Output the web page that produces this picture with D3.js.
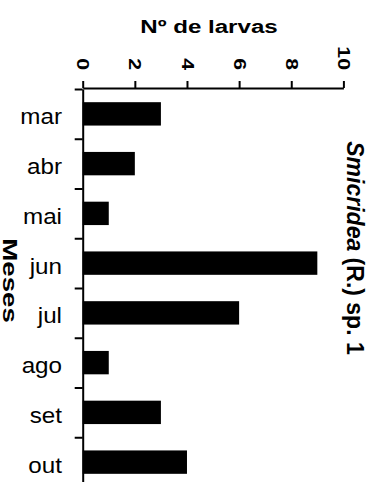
<!DOCTYPE html>
<html>
<head>
<meta charset="utf-8">
<script src="https://cdn.jsdelivr.net/npm/d3@7"></script>
<style>
  body { margin: 0; background: #fff; }
  text { font-family: "Liberation Sans", Arial, Helvetica, sans-serif; fill: #000; }
</style>
</head>
<body>
<svg id="chart" width="379" height="482"></svg>
<script>
// data
var months = ["mar", "abr", "mai", "jun", "jul", "ago", "set", "out"];
var larvae = [3, 2, 1, 9, 6, 1, 3, 4];
var xTicks = [0, 2, 4, 6, 8, 10];

var svg = d3.select("#chart");

// plot edges (window.top is taken, so no "top" here)
var plotLeft = 82.7, plotRight = 343.4, plotTop = 88, plotBottom = 487;

var x = d3.scaleLinear().domain([0, 10]).range([plotLeft, plotRight]);
// band scale for the bars, linear index scale for the boundary ticks
var y = d3.scaleBand().domain(months).range([plotTop + 1, plotBottom])
    .paddingInner(0.53).paddingOuter(0.265);
var yIdx = d3.scaleLinear().domain([0, months.length]).range([plotTop + 1, plotBottom]);

// bars
svg.append("g").selectAll("rect")
    .data(months)
    .enter()
    .append("rect")
    .attr("x", x(0))
    .attr("y", function(d) { return y(d); })
    .attr("width", function(d, i) { return x(larvae[i]) - x(0); })
    .attr("height", y.bandwidth())
    .attr("fill", "#000");

// top value axis
var xAxis = svg.append("g")
    .attr("transform", "translate(0," + plotTop + ")")
    .call(d3.axisTop(x).tickValues(xTicks).tickSize(7).tickSizeOuter(0));
xAxis.select(".domain").attr("stroke", "#000").attr("stroke-width", 2);
xAxis.selectAll(".tick line").attr("stroke", "#000").attr("stroke-width", 2);
xAxis.selectAll(".tick text")
    .attr("x", 0).attr("y", 0).attr("dy", "0.35em")
    .attr("text-anchor", "end")
    .attr("transform", "translate(0,-18) rotate(90) scale(1.25,1)")
    .style("font-family", "'Liberation Sans', Arial, sans-serif")
    .style("font-size", "17px")
    .style("font-weight", "bold")
    .attr("fill", "#000");

// left category axis, ticks between months
var yAxis = svg.append("g")
    .attr("transform", "translate(" + plotLeft + ",0)")
    .call(d3.axisLeft(yIdx).tickValues(d3.range(0, months.length + 1))
        .tickFormat("").tickSize(8).tickSizeOuter(0));
yAxis.select(".domain").attr("stroke", "#000").attr("stroke-width", 2);
yAxis.selectAll(".tick line").attr("stroke", "#000").attr("stroke-width", 2);

// month labels
svg.append("g").selectAll("text")
    .data(months)
    .enter()
    .append("text")
    .attr("transform", function(d) {
        return "translate(62," + (y(d) + y.bandwidth() / 2 + 10.5) + ") scale(1.1,1)";
    })
    .attr("text-anchor", "end")
    .style("font-size", "22px")
    .text(function(d) { return d; });

// titles
svg.append("text")
    .attr("transform", "translate(209,33) scale(1.27,1)")
    .attr("text-anchor", "middle")
    .style("font-size", "19px")
    .style("font-weight", "bold")
    .text("Nº de larvas");

svg.append("text")
    .attr("transform", "translate(3,280.5) rotate(90) scale(1.32,1)")
    .attr("text-anchor", "middle")
    .style("font-size", "21px")
    .style("font-weight", "bold")
    .text("Meses");

var species = svg.append("text")
    .attr("transform", "translate(347,248) rotate(90)")
    .attr("text-anchor", "middle")
    .style("font-size", "23px")
    .style("font-weight", "bold");
species.append("tspan").style("font-style", "italic").text("Smicridea");
species.append("tspan").text(" (R.) sp. 1");
</script>
</body>
</html>
